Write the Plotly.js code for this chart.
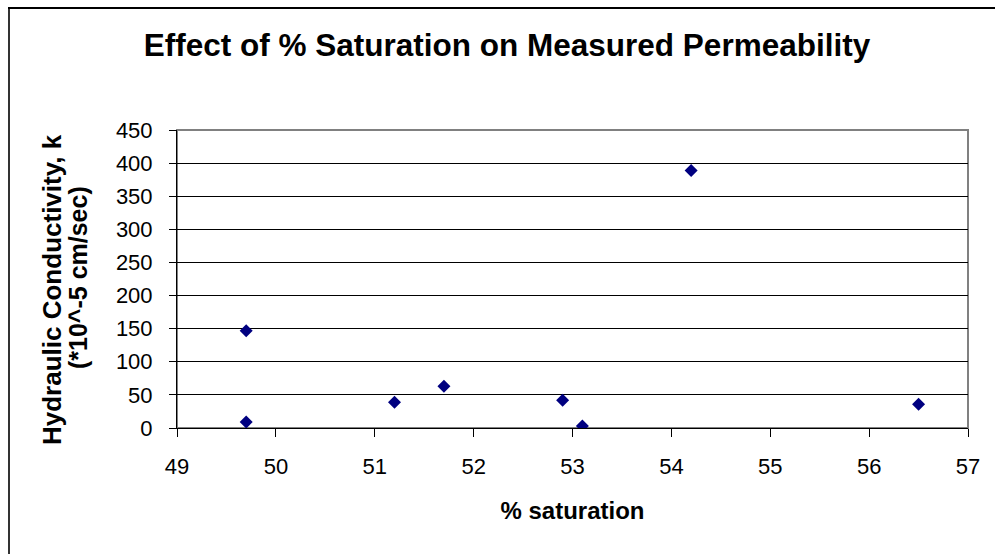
<!DOCTYPE html>
<html>
<head>
<meta charset="utf-8">
<script src="https://cdn.plot.ly/plotly-3.0.1.min.js"></script>
<style>html,body{margin:0;padding:0;background:#fff;}#chart{width:995px;height:554px;}</style>
</head>
<body>
<div id="chart"></div>
<script>
const saturation = [49.7, 49.7, 51.2, 51.7, 52.9, 53.1, 54.2, 56.5];
const conductivity = [147, 9, 39, 63, 42, 3, 389, 36];
const xTicks = [49, 50, 51, 52, 53, 54, 55, 56, 57];
const yTicks = [0, 50, 100, 150, 200, 250, 300, 350, 400, 450];
const yTitleLines = ['Hydraulic Conductivity, k', '(*10^-5 cm/sec)'];

const W = 995, H = 554;
const M = {l: 177, r: 27, t: 130, b: 126};
const PW = W - M.l - M.r, PH = H - M.t - M.b;
const px = v => (v - M.l) / PW;
const py = v => (H - M.b - v) / PH;
const FONT = 'Liberation Sans, Arial, sans-serif';

const trace = {
  type: 'scatter', mode: 'markers',
  x: saturation, y: conductivity,
  marker: {symbol: 'diamond', size: 10, color: '#000080'},
  hoverinfo: 'x+y'
};

const layout = {
  width: W, height: H,
  margin: M,
  paper_bgcolor: '#fff', plot_bgcolor: '#fff',
  showlegend: false,
  font: {family: FONT, color: '#000'},
  title: {
    text: '<b>Effect of % Saturation on Measured Permeability</b>',
    font: {family: FONT, size: 31.5, color: '#000'},
    xref: 'container', x: 507 / W, xanchor: 'center',
    yref: 'container', y: 1 - 45 / H, yanchor: 'middle'
  },
  xaxis: {
    range: [49, 57], tickvals: xTicks, ticktext: xTicks.map(String),
    showgrid: false, zeroline: false,
    showline: true, linecolor: '#000', linewidth: 1,
    ticks: 'outside', ticklen: 8, tickcolor: '#000', tickwidth: 1,
    tickfont: {family: FONT, size: 22, color: '#000'},
    ticklabelstandoff: 11,
    title: {text: '<b>% saturation</b>', font: {family: FONT, size: 24, color: '#000'}, standoff: 23}
  },
  yaxis: {
    range: [0, 450], tickvals: yTicks, ticktext: yTicks.map(String),
    showgrid: true, gridcolor: '#000', gridwidth: 1, zeroline: false,
    showline: true, linecolor: '#000', linewidth: 1,
    ticks: 'outside', ticklen: 7, tickcolor: '#000', tickwidth: 1,
    tickfont: {family: FONT, size: 22, color: '#000'},
    ticklabelstandoff: 12
  },
  annotations: [
    {text: '<b>' + yTitleLines[0] + '</b>', textangle: -90, showarrow: false,
     xref: 'paper', yref: 'paper', x: px(52), y: py(290), xanchor: 'center', yanchor: 'middle',
     font: {family: FONT, size: 26, color: '#000'}},
    {text: '<b>' + yTitleLines[1] + '</b>', textangle: -90, showarrow: false,
     xref: 'paper', yref: 'paper', x: px(78), y: py(278), xanchor: 'center', yanchor: 'middle',
     font: {family: FONT, size: 25, color: '#000'}}
  ],
  shapes: [
    {type: 'rect', xref: 'paper', yref: 'paper', x0: 0, x1: 1, y0: 0, y1: 1,
     line: {color: '#808080', width: 2}, layer: 'between'},
    {type: 'line', xref: 'paper', yref: 'paper', x0: px(9), x1: px(9), y0: py(8), y1: py(H + 10),
     line: {color: '#333', width: 2}},
    {type: 'line', xref: 'paper', yref: 'paper', x0: px(8), x1: px(W + 10), y0: py(8), y1: py(8),
     line: {color: '#000', width: 2}}
  ]
};

Plotly.newPlot('chart', [trace], layout, {displayModeBar: false, staticPlot: true});
</script>
</body>
</html>
